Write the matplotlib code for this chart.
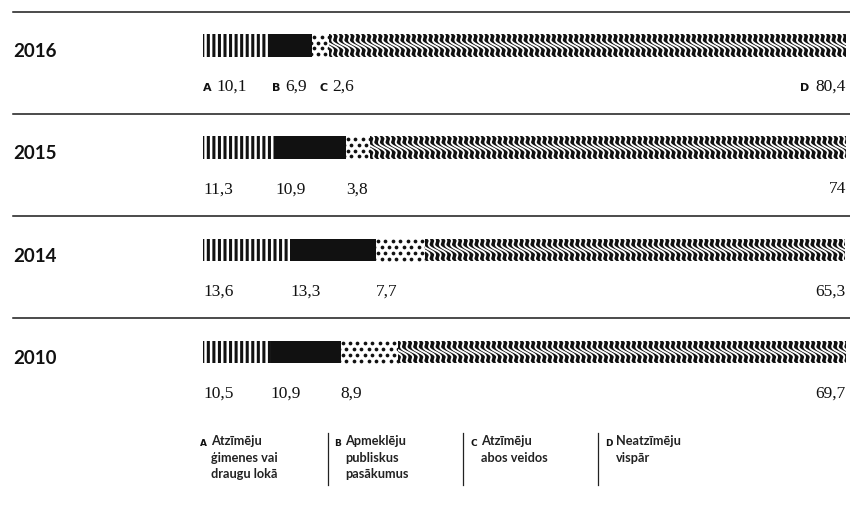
import matplotlib
matplotlib.use("Agg")
import matplotlib.pyplot as plt
import matplotlib.transforms as mtransforms
from matplotlib.lines import Line2D
import numpy as np

# Data (share of respondents, %)
years = ["2016", "2015", "2014", "2010"]
share_a = [10.1, 11.3, 13.6, 10.5]
share_b = [6.9, 10.9, 13.3, 10.9]
share_c = [2.6, 3.8, 7.7, 8.9]
share_d = [80.4, 74, 65.3, 69.7]
keys = ["A", "B", "C", "D"]
legend_texts = [
    "Atzīmēju\nģimenes vai\ndraugu lokā",
    "Apmeklēju\npubliskus\npasākumus",
    "Atzīmēju\nabos veidos",
    "Neatzīmēju\nvispār",
]

W, H = 850, 520
X0, X1 = 203, 846          # pixel span of the bars
ROW0, ROW = 45.5, 102.2    # first bar centre and row step, pixels
BAR_H = 0.22

SANS = ["Lato", "DejaVu Sans"]
KEYF = ["DejaVu Sans"]
SERIF = ["Liberation Serif", "DejaVu Serif"]
INK = "#111111"

plt.rcParams["hatch.linewidth"] = 2.2

fig = plt.figure(figsize=(W / 100, H / 100), dpi=100)
ax = fig.add_axes([X0 / W, 0, (X1 - X0) / W, 1])
ax.set_xlim(0, 100)
ax.set_ylim((H - ROW0) / ROW, -ROW0 / ROW)
ax.axis("off")

y = np.arange(len(years))
a = np.array(share_a)
b = np.array(share_b)
c = np.array(share_c)
d = np.array(share_d)
lefts = [np.zeros(len(years)), a, a + b, a + b + c]
widths = [a, b, c, d]

bars_a = ax.barh(y, a, left=lefts[0], height=BAR_H, color="white",
                 edgecolor=INK, linewidth=0, hatch="|||")
bars_b = ax.barh(y, b, left=lefts[1], height=BAR_H, color=INK, linewidth=0)
bars_c = ax.barh(y, c, left=lefts[2], height=BAR_H, color="white", linewidth=0)
bars_d = ax.barh(y, d, left=lefts[3], height=BAR_H, color=INK, linewidth=0)

inv = ax.transData.inverted()


def px_extent(bar):
    x, yy = bar.get_x(), bar.get_y()
    (xa, ya), (xb, yb) = ax.transData.transform(
        [(x, yy), (x + bar.get_width(), yy + bar.get_height())])
    return min(xa, xb), max(xa, xb), min(ya, yb), max(ya, yb)


# dotted pattern for C
for bar in bars_c:
    xl, xr, yb, yt = px_extent(bar)
    pts = []
    for r, yy in enumerate(np.arange(yt - 2.5, yb - 3, -5.8)):
        shift = 3.7 if r % 2 else 0
        for xx in np.arange(xl + 2 + shift - 7.4, xr + 4, 7.4):
            pts.append((xx, yy))
    pts = inv.transform(np.array(pts))
    dots, = ax.plot(pts[:, 0], pts[:, 1], "o", color=INK, ms=2.7, mew=0)
    dots.set_clip_path(bar)

# wavy white lines for D
for bar in bars_d:
    xl, xr, yb, yt = px_extent(bar)
    t = np.linspace(0, yt - yb + 6, 100)
    for x0 in np.arange(xl - 30, xr + 6, 5.6):
        xs = x0 + 0.8 * t + 2.6 * np.sin(2 * np.pi * t / 14.0)
        ys = yt + 3 - t
        pts = inv.transform(np.column_stack([xs, ys]))
        ln, = ax.plot(pts[:, 0], pts[:, 1], color="white", lw=1.35,
                      solid_capstyle="butt")
        ln.set_clip_path(bar)

# separators and year labels
blend = mtransforms.blended_transform_factory(fig.transFigure, ax.transData)
for i, yr in enumerate(years):
    sep_y = i - 0.33
    fig.add_artist(Line2D([13 / W, 1], [sep_y, sep_y], transform=blend,
                          color="#1a1a1a", lw=1.1))
    ax.text(13 / W, i + 0.115, yr, transform=blend, ha="left", va="baseline",
            family=SANS, fontweight="bold", fontsize=13.5, color=INK)

# value labels
renderer = fig.canvas.get_renderer()
fmt = lambda v: f"{v:g}".replace(".", ",")
letter_nudge = [0, 0.6, 1.1]   # shift of the lettered first row, in % units
for i in range(len(years)):
    ly = i + 0.445
    for k in range(3):
        xpos = lefts[k][i]
        if i == 0:
            xpos = xpos + letter_nudge[k]
            key = ax.text(xpos, ly, keys[k], ha="left", va="baseline",
                          family=KEYF, fontweight="bold", fontsize=8,
                          color=INK)
            kw = key.get_window_extent(renderer).width
            tr = mtransforms.offset_copy(ax.transData, fig=fig,
                                         x=(kw + 5) * 0.72, y=0,
                                         units="points")
            ax.text(xpos, ly, fmt(widths[k][i]), transform=tr, ha="left",
                    va="baseline", family=SERIF, fontsize=12.5, color=INK)
        else:
            ax.text(xpos, ly, fmt(widths[k][i]), ha="left", va="baseline",
                    family=SERIF, fontsize=12.5, color=INK)
    num = ax.text(100, ly, fmt(d[i]), ha="right", va="baseline", family=SERIF,
                  fontsize=12.5, color=INK)
    if i == 0:
        nw = num.get_window_extent(renderer).width
        tr = mtransforms.offset_copy(ax.transData, fig=fig,
                                     x=-(nw + 6) * 0.72, y=0, units="points")
        ax.text(100, ly, keys[3], transform=tr, ha="right", va="baseline",
                family=KEYF, fontweight="bold", fontsize=8, color=INK)

# legend at the bottom
key_x = [200, 334, 470, 605]
for k in range(4):
    fig.text(key_x[k] / W, 1 - 446.5 / H, keys[k], ha="left", va="baseline",
             family=KEYF, fontweight="bold", fontsize=6.5, color=INK)
    fig.text((key_x[k] + 11) / W, 1 - 435 / H, legend_texts[k], ha="left",
             va="top", family=SANS, fontweight="bold", fontsize=9.2,
             linespacing=1.45, color="#222222")
for dx in [328, 463, 598]:
    fig.add_artist(Line2D([dx / W, dx / W], [1 - 433 / H, 1 - 485 / H],
                          transform=fig.transFigure, color="#222222", lw=0.9))

fig.savefig("out.png", dpi=100, facecolor="white")
